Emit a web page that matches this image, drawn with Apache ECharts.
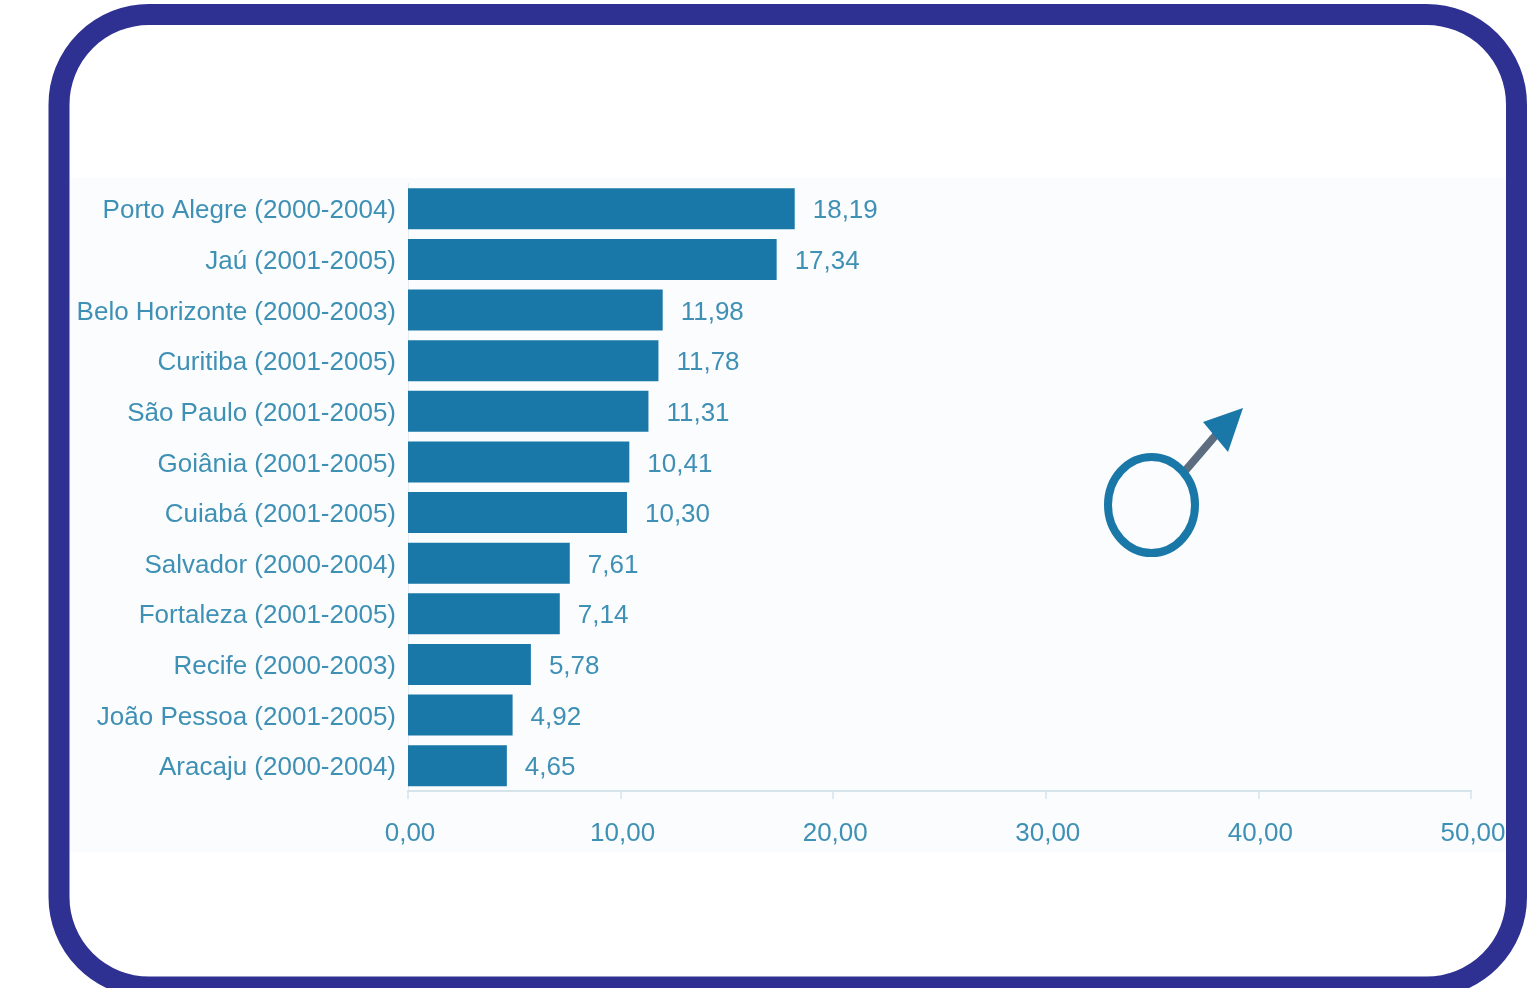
<!DOCTYPE html>
<html>
<head>
<meta charset="utf-8">
<style>html,body{margin:0;padding:0;background:#fff}#c{width:1532px;height:988px}</style>
<script src="https://cdn.jsdelivr.net/npm/echarts@6/dist/echarts.min.js"></script>
</head>
<body>
<div id="c"></div>
<script>
const cities = ['Porto Alegre (2000-2004)','Jaú (2001-2005)','Belo Horizonte (2000-2003)','Curitiba (2001-2005)','São Paulo (2001-2005)','Goiânia (2001-2005)','Cuiabá (2001-2005)','Salvador (2000-2004)','Fortaleza (2001-2005)','Recife (2000-2003)','João Pessoa (2001-2005)','Aracaju (2000-2004)'];
const rates = [18.19,17.34,11.98,11.78,11.31,10.41,10.30,7.61,7.14,5.78,4.92,4.65];
const barColor = '#1a78a8';
const textColor = '#3f90b5';
const font = '"Liberation Sans", Arial, sans-serif';
const comma = v => v.toFixed(2).replace('.', ',');

const chart = echarts.init(document.getElementById('c'), null, {renderer: 'canvas'});
chart.setOption({
  animation: false,
  backgroundColor: '#ffffff',
  grid: {left: 408, top: 183.5, width: 1063, height: 607.5, containLabel: false},
  xAxis: {
    type: 'value', min: 0, max: 50, interval: 10,
    splitLine: {show: false},
    axisLine: {show: true, lineStyle: {color: '#d5e3ea', width: 2}},
    axisTick: {show: true, length: 8, lineStyle: {color: '#d5e3ea', width: 1.5}},
    axisLabel: {
      margin: 30, padding: [0, 0, 0, 4], color: textColor, fontFamily: font, fontSize: 26,
      hideOverlap: false, showMinLabel: true, showMaxLabel: true,
      formatter: v => comma(v)
    }
  },
  yAxis: {
    type: 'category', inverse: true, data: cities,
    axisLine: {show: true, lineStyle: {color: '#e6edf1', width: 1}},
    axisTick: {show: false},
    axisLabel: {margin: 12, verticalAlign: 'top', lineHeight: 5, color: textColor, fontFamily: font, fontSize: 26, interval: 0}
  },
  series: [{
    type: 'bar', data: rates, barWidth: 41,
    itemStyle: {color: barColor},
    label: {
      show: true, position: 'right', distance: 18, offset: [0, 2.5],
      color: textColor, fontFamily: font, fontSize: 26,
      formatter: p => comma(p.value)
    }
  }],
  graphic: {elements: [
    // pale panel behind the plot
    {type: 'rect', z: -10, silent: true, shape: {x: 70, y: 178, width: 1436, height: 674},
     style: {fill: '#fbfcfd'}},
    // rounded border
    {type: 'rect', z: 100, silent: true, shape: {x: 59, y: 14.5, width: 1457.5, height: 972.5, r: 90},
     style: {fill: 'none', stroke: '#2e3192', lineWidth: 21}},
    // male symbol: ring, shaft, arrow head
    {type: 'line', z: 50, silent: true, shape: {x1: 1185, y1: 471, x2: 1221, y2: 429},
     style: {stroke: '#5d6d80', lineWidth: 8}},
    {type: 'ellipse', z: 51, silent: true, shape: {cx: 1151.5, cy: 505, rx: 43.5, ry: 48},
     style: {fill: 'none', stroke: barColor, lineWidth: 8}},
    {type: 'polygon', z: 51, silent: true, shape: {points: [[1243,408],[1203,422],[1228,452]]},
     style: {fill: barColor}}
  ]}
});
</script>
</body>
</html>
